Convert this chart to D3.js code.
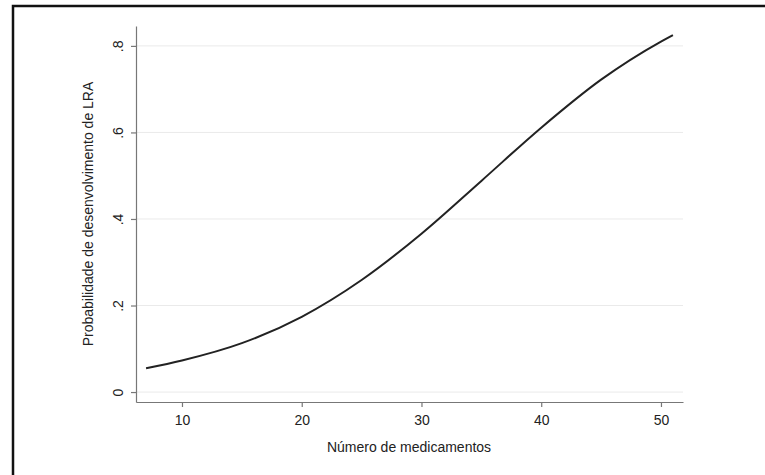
<!DOCTYPE html>
<html>
<head>
<meta charset="utf-8">
<script src="https://cdn.jsdelivr.net/npm/d3@7"></script>
<style>
  body { margin: 0; background: #fff; }
  text { font-family: "Liberation Sans", Arial, sans-serif; fill: #222; }
</style>
</head>
<body>
<div id="chart"></div>
<script>
// Data
var meds = [7, 10, 15, 20, 25, 30, 35, 40, 45, 50, 51];
var prob = [0.055, 0.073, 0.113, 0.174, 0.259, 0.366, 0.488, 0.611, 0.722, 0.810, 0.825];
var xTicks = [10, 20, 30, 40, 50];
var yTicks = [0, 0.2, 0.4, 0.6, 0.8];
var yTickLabels = ["0", ".2", ".4", ".6", ".8"];

var width = 765, height = 475;

var svg = d3.select("#chart").append("svg")
    .attr("width", width)
    .attr("height", height);

// outer frame (left and top edges visible)
svg.append("path")
    .attr("d", "M13,475 L13,6 L765,6")
    .style("fill", "none")
    .style("stroke", "#111")
    .style("stroke-width", 2.5);

// Scales
var xScale = d3.scaleLinear()
    .domain([6.16, 51.84])
    .range([136, 683]);
var yScale = d3.scaleLinear()
    .domain([-0.023, 0.846])
    .range([402, 26]);

// Gridlines
svg.append("g")
    .selectAll("line")
    .data(yTicks)
    .enter()
    .append("line")
    .attr("x1", 136)
    .attr("x2", 683)
    .attr("y1", d => yScale(d))
    .attr("y2", d => yScale(d))
    .style("stroke", "#eaeaea")
    .style("stroke-width", 1);

// Axes
var xAxis = d3.axisBottom(xScale)
    .tickValues(xTicks)
    .tickSize(5)
    .tickSizeOuter(0);
var yAxis = d3.axisLeft(yScale)
    .tickValues(yTicks)
    .tickSize(5)
    .tickSizeOuter(0)
    .tickFormat((d, i) => yTickLabels[i]);

var xAxisG = svg.append("g")
    .attr("transform", "translate(0,402)")
    .call(xAxis);
xAxisG.selectAll("text")
    .attr("dy", null)
    .attr("y", 23)
    .style("font-size", "14px");

var yAxisG = svg.append("g")
    .attr("transform", "translate(136,0)")
    .call(yAxis);
yAxisG.selectAll("text")
    .attr("x", null)
    .attr("dy", null)
    .attr("text-anchor", "middle")
    .attr("transform", "translate(-13,0) rotate(-90)")
    .style("font-size", "14px");

svg.selectAll(".domain, .tick line")
    .style("stroke", "#777")
    .style("stroke-width", 1.2);

// Axis titles
svg.append("text")
    .attr("x", 409)
    .attr("y", 452)
    .attr("text-anchor", "middle")
    .style("font-size", "14px")
    .text("Número de medicamentos");

svg.append("text")
    .attr("transform", "translate(93,214) rotate(-90)")
    .attr("text-anchor", "middle")
    .style("font-size", "14px")
    .text("Probabilidade de desenvolvimento de LRA");

// Curve
var line = d3.line()
    .x((d, i) => xScale(meds[i]))
    .y(d => yScale(d))
    .curve(d3.curveMonotoneX);

svg.append("path")
    .datum(prob)
    .attr("d", line)
    .style("fill", "none")
    .style("stroke", "#222")
    .style("stroke-width", 2);
</script>
</body>
</html>
